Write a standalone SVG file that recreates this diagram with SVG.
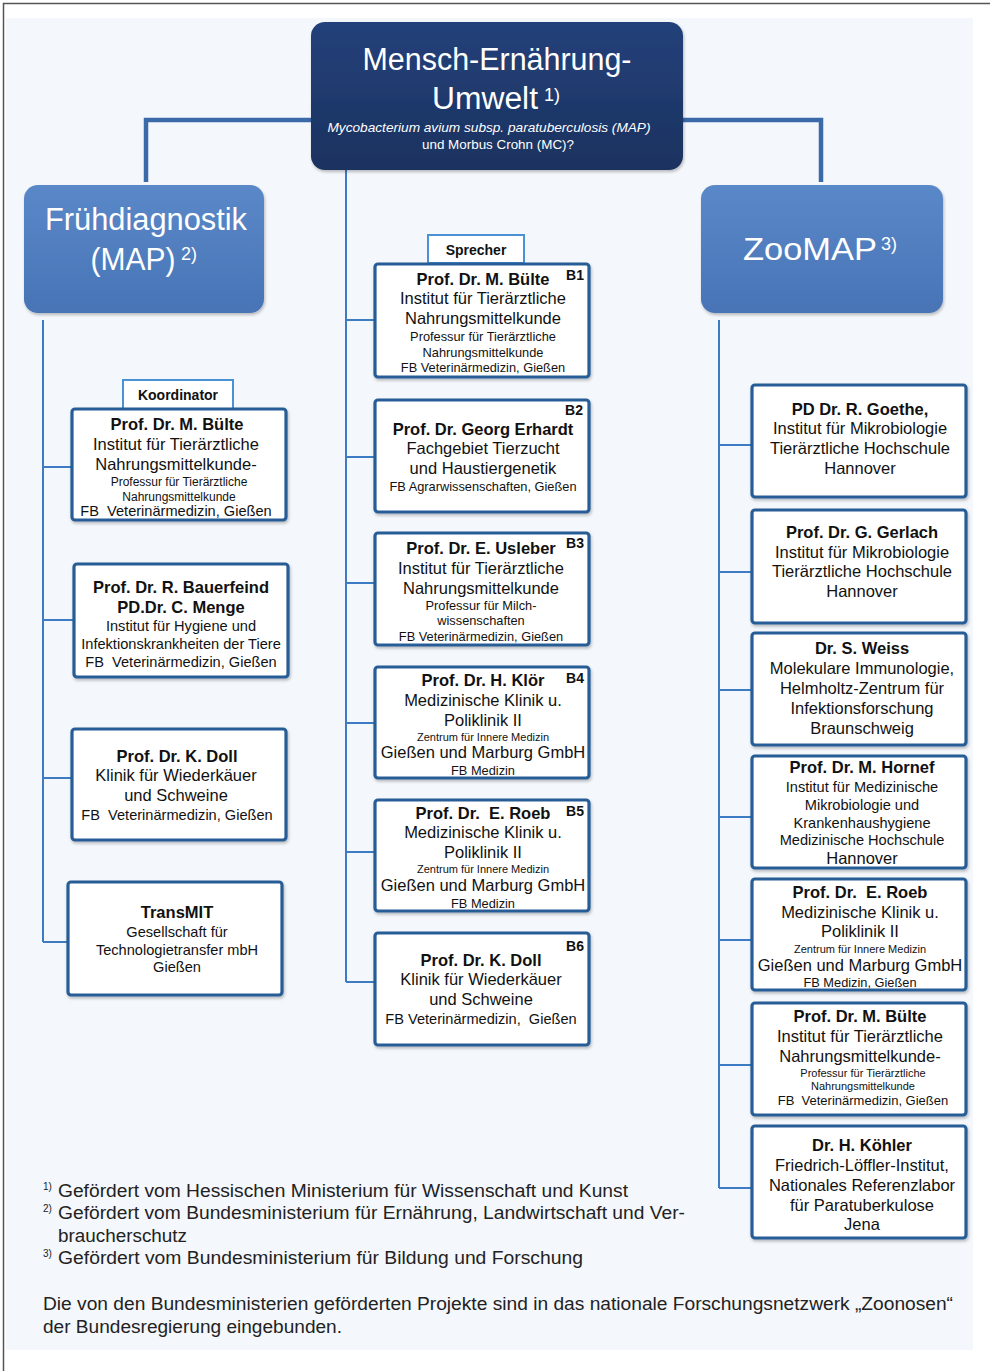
<svg xmlns="http://www.w3.org/2000/svg" width="990" height="1371" viewBox="0 0 990 1371">
<defs>
<linearGradient id="gTop" x1="0" y1="0" x2="0" y2="1"><stop offset="0" stop-color="#24417a"/><stop offset="1" stop-color="#1b325f"/></linearGradient>
<linearGradient id="gMid" x1="0" y1="0" x2="0" y2="1"><stop offset="0" stop-color="#5a88c8"/><stop offset="1" stop-color="#4874b6"/></linearGradient>
<filter id="sh" x="-10%" y="-10%" width="130%" height="130%"><feDropShadow dx="1" dy="2" stdDeviation="1.5" flood-color="#000" flood-opacity="0.25"/></filter>
</defs>
<style>
text{font-family:"Liberation Sans",Arial,sans-serif;fill:#111;text-anchor:middle;white-space:pre}
.b{font-weight:bold;font-size:16.5px}
.n{font-size:16.5px}
.s{font-size:12.8px}
.m{font-size:14.6px}
.t{font-size:11px}
.lbl{font-weight:bold;font-size:14px}
.bx{fill:#fff;stroke:#285d96;stroke-width:3.2}
.lb{fill:#fff;stroke:#4a92d4;stroke-width:2}
.big{fill:#fff;font-size:31px}
.sup{fill:#fff;font-size:18px;text-anchor:start}
.fn{font-size:17.5px;text-anchor:start;fill:#222}
.fs{font-size:10px;text-anchor:start;fill:#222}
.cn{fill:none;stroke:#3d7cc4;stroke-width:2}
.ct{fill:none;stroke:#3a6aa8;stroke-width:4.5}
</style>
<rect x="0" y="0" width="990" height="1371" fill="#fff"/>
<rect x="6" y="18" width="967" height="1332" fill="#f4f7fb"/>
<rect x="3.5" y="3.5" width="1000" height="1400" fill="none" stroke="#555" stroke-width="1.5"/>

<g id="connectors">
<polyline class="ct" points="311,120 146,120 146,182"/>
<polyline class="ct" points="683,120 821,120 821,182"/>
<line class="cn" x1="346" y1="170" x2="346" y2="982"/>
<line class="cn" x1="346" y1="320" x2="375" y2="320"/>
<line class="cn" x1="346" y1="457" x2="375" y2="457"/>
<line class="cn" x1="346" y1="583" x2="375" y2="583"/>
<line class="cn" x1="346" y1="723" x2="375" y2="723"/>
<line class="cn" x1="346" y1="852" x2="375" y2="852"/>
<line class="cn" x1="346" y1="982" x2="375" y2="982"/>
<line class="cn" x1="43" y1="320" x2="43" y2="942"/>
<line class="cn" x1="43" y1="467" x2="72" y2="467"/>
<line class="cn" x1="43" y1="620" x2="73" y2="620"/>
<line class="cn" x1="43" y1="778" x2="72" y2="778"/>
<line class="cn" x1="43" y1="942" x2="68" y2="942"/>
<line class="cn" x1="719" y1="320" x2="719" y2="1188"/>
<line class="cn" x1="719" y1="445" x2="752" y2="445"/>
<line class="cn" x1="719" y1="572" x2="752" y2="572"/>
<line class="cn" x1="719" y1="690" x2="752" y2="690"/>
<line class="cn" x1="719" y1="817" x2="752" y2="817"/>
<line class="cn" x1="719" y1="940" x2="752" y2="940"/>
<line class="cn" x1="719" y1="1065" x2="752" y2="1065"/>
<line class="cn" x1="719" y1="1188" x2="752" y2="1188"/>
</g>

<g id="top">
<rect x="311" y="22" width="372" height="148" rx="14" fill="url(#gTop)" filter="url(#sh)"/>
<text class="big" x="497" y="70" textLength="269" lengthAdjust="spacingAndGlyphs">Mensch-Ernährung-</text>
<text class="big" x="485" y="109" textLength="106" lengthAdjust="spacingAndGlyphs">Umwelt</text>
<text class="sup" x="544" y="101">1)</text>
<text x="489" y="132" style="fill:#fff;font-size:13px;font-style:italic" textLength="323" lengthAdjust="spacingAndGlyphs">Mycobacterium avium subsp. paratuberculosis (MAP)</text>
<text x="498" y="149" style="fill:#fff;font-size:13px" textLength="152" lengthAdjust="spacingAndGlyphs">und Morbus Crohn (MC)?</text>
</g>

<g id="fruehdiagnostik">
<rect x="24" y="185" width="240" height="128" rx="14" fill="url(#gMid)" filter="url(#sh)"/>
<text class="big" x="146" y="230" textLength="202" lengthAdjust="spacingAndGlyphs">Frühdiagnostik</text>
<text class="big" x="133" y="270" textLength="85" lengthAdjust="spacingAndGlyphs">(MAP)</text>
<text class="sup" x="181" y="260">2)</text>
</g>

<g id="zoomap">
<rect x="701" y="185" width="242" height="128" rx="14" fill="url(#gMid)" filter="url(#sh)"/>
<text class="big" x="810" y="260" textLength="134" lengthAdjust="spacingAndGlyphs">ZooMAP</text>
<text class="sup" x="881" y="250">3)</text>
</g>

<g id="koordinator">
<rect class="lb" x="123" y="380" width="110" height="29"/>
<text class="lbl" x="178" y="400">Koordinator</text>
</g>
<g id="l1">
<rect class="bx" x="72" y="409" width="214" height="111" rx="3" filter="url(#sh)"/>
<text class="b" x="177" y="430">Prof. Dr. M. Bülte</text>
<text class="n" x="176" y="450">Institut für Tierärztliche</text>
<text class="n" x="176" y="470">Nahrungsmittelkunde-</text>
<text class="s" x="179" y="486" style="font-size:12px">Professur für Tierärztliche</text>
<text class="s" x="179" y="501" style="font-size:12px">Nahrungsmittelkunde</text>
<text class="m" x="176" y="516">FB  Veterinärmedizin, Gießen</text>
</g>
<g id="l2">
<rect class="bx" x="74" y="564" width="214" height="113" rx="3" filter="url(#sh)"/>
<text class="b" x="181" y="593">Prof. Dr. R. Bauerfeind</text>
<text class="b" x="181" y="613">PD.Dr. C. Menge</text>
<text class="m" x="181" y="631">Institut für Hygiene und</text>
<text class="m" x="181" y="649">Infektionskrankheiten der Tiere</text>
<text class="m" x="181" y="667">FB  Veterinärmedizin, Gießen</text>
</g>
<g id="l3">
<rect class="bx" x="72" y="729" width="214" height="111" rx="3" filter="url(#sh)"/>
<text class="b" x="177" y="762">Prof. Dr. K. Doll</text>
<text class="n" x="176" y="781">Klinik für Wiederkäuer</text>
<text class="n" x="176" y="801">und Schweine</text>
<text class="m" x="177" y="820">FB  Veterinärmedizin, Gießen</text>
</g>
<g id="l4">
<rect class="bx" x="68" y="882" width="214" height="113" rx="3" filter="url(#sh)"/>
<text class="b" x="177" y="918">TransMIT</text>
<text class="m" x="177" y="937">Gesellschaft für</text>
<text class="m" x="177" y="955">Technologietransfer mbH</text>
<text class="m" x="177" y="972">Gießen</text>
</g>

<g id="sprecher">
<rect class="lb" x="428" y="235" width="96" height="28"/>
<text class="lbl" x="476" y="255">Sprecher</text>
</g>
<g id="b1">
<rect class="bx" x="375" y="264" width="214" height="113" rx="3" filter="url(#sh)"/>
<text class="b" x="483" y="285">Prof. Dr. M. Bülte</text>
<text class="lbl" x="575" y="280">B1</text>
<text class="n" x="483" y="304">Institut für Tierärztliche</text>
<text class="n" x="483" y="324">Nahrungsmittelkunde</text>
<text class="s" x="483" y="341">Professur für Tierärztliche</text>
<text class="s" x="483" y="357">Nahrungsmittelkunde</text>
<text class="s" x="483" y="372">FB Veterinärmedizin, Gießen</text>
</g>
<g id="b2">
<rect class="bx" x="375" y="400" width="214" height="112" rx="3" filter="url(#sh)"/>
<text class="lbl" x="574" y="415">B2</text>
<text class="b" x="483" y="435">Prof. Dr. Georg Erhardt</text>
<text class="n" x="483" y="454">Fachgebiet Tierzucht</text>
<text class="n" x="483" y="474">und Haustiergenetik</text>
<text class="s" x="483" y="491">FB Agrarwissenschaften, Gießen</text>
</g>
<g id="b3">
<rect class="bx" x="375" y="533" width="214" height="112" rx="3" filter="url(#sh)"/>
<text class="b" x="481" y="554">Prof. Dr. E. Usleber</text>
<text class="lbl" x="575" y="548">B3</text>
<text class="n" x="481" y="574">Institut für Tierärztliche</text>
<text class="n" x="481" y="594">Nahrungsmittelkunde</text>
<text class="s" x="481" y="610">Professur für Milch-</text>
<text class="s" x="481" y="625">wissenschaften</text>
<text class="s" x="481" y="641">FB Veterinärmedizin, Gießen</text>
</g>
<g id="b4">
<rect class="bx" x="375" y="667" width="214" height="111" rx="3" filter="url(#sh)"/>
<text class="b" x="483" y="686">Prof. Dr. H. Klör</text>
<text class="lbl" x="575" y="683">B4</text>
<text class="n" x="483" y="706">Medizinische Klinik u.</text>
<text class="n" x="483" y="726">Poliklinik II</text>
<text class="t" x="483" y="741">Zentrum für Innere Medizin</text>
<text class="n" x="483" y="758">Gießen und Marburg GmbH</text>
<text class="s" x="483" y="775">FB Medizin</text>
</g>
<g id="b5">
<rect class="bx" x="375" y="800" width="214" height="111" rx="3" filter="url(#sh)"/>
<text class="b" x="483" y="819">Prof. Dr.  E. Roeb</text>
<text class="lbl" x="575" y="816">B5</text>
<text class="n" x="483" y="838">Medizinische Klinik u.</text>
<text class="n" x="483" y="858">Poliklinik II</text>
<text class="t" x="483" y="873">Zentrum für Innere Medizin</text>
<text class="n" x="483" y="891">Gießen und Marburg GmbH</text>
<text class="s" x="483" y="908">FB Medizin</text>
</g>
<g id="b6">
<rect class="bx" x="375" y="933" width="214" height="112" rx="3" filter="url(#sh)"/>
<text class="lbl" x="575" y="951">B6</text>
<text class="b" x="481" y="966">Prof. Dr. K. Doll</text>
<text class="n" x="481" y="985">Klinik für Wiederkäuer</text>
<text class="n" x="481" y="1005">und Schweine</text>
<text class="m" x="481" y="1024">FB Veterinärmedizin,  Gießen</text>
</g>

<g id="r1">
<rect class="bx" x="752" y="385" width="214" height="112" rx="3" filter="url(#sh)"/>
<text class="b" x="860" y="415">PD Dr. R. Goethe,</text>
<text class="n" x="860" y="434">Institut für Mikrobiologie</text>
<text class="n" x="860" y="454">Tierärztliche Hochschule</text>
<text class="n" x="860" y="474">Hannover</text>
</g>
<g id="r2">
<rect class="bx" x="752" y="510" width="214" height="113" rx="3" filter="url(#sh)"/>
<text class="b" x="862" y="538">Prof. Dr. G. Gerlach</text>
<text class="n" x="862" y="558">Institut für Mikrobiologie</text>
<text class="n" x="862" y="577">Tierärztliche Hochschule</text>
<text class="n" x="862" y="597">Hannover</text>
</g>
<g id="r3">
<rect class="bx" x="752" y="633" width="214" height="112" rx="3" filter="url(#sh)"/>
<text class="b" x="862" y="654">Dr. S. Weiss</text>
<text class="n" x="862" y="674">Molekulare Immunologie,</text>
<text class="n" x="862" y="694">Helmholtz-Zentrum für</text>
<text class="n" x="862" y="714">Infektionsforschung</text>
<text class="n" x="862" y="734">Braunschweig</text>
</g>
<g id="r4">
<rect class="bx" x="752" y="756" width="214" height="112" rx="3" filter="url(#sh)"/>
<text class="b" x="862" y="773">Prof. Dr. M. Hornef</text>
<text class="m" x="862" y="792">Institut für Medizinische</text>
<text class="m" x="862" y="810">Mikrobiologie und</text>
<text class="m" x="862" y="828">Krankenhaushygiene</text>
<text class="m" x="862" y="845">Medizinische Hochschule</text>
<text class="n" x="862" y="864">Hannover</text>
</g>
<g id="r5">
<rect class="bx" x="752" y="879" width="214" height="111" rx="3" filter="url(#sh)"/>
<text class="b" x="860" y="898">Prof. Dr.  E. Roeb</text>
<text class="n" x="860" y="918">Medizinische Klinik u.</text>
<text class="n" x="860" y="937">Poliklinik II</text>
<text class="t" x="860" y="953">Zentrum für Innere Medizin</text>
<text class="n" x="860" y="971">Gießen und Marburg GmbH</text>
<text class="s" x="860" y="987">FB Medizin, Gießen</text>
</g>
<g id="r6">
<rect class="bx" x="752" y="1003" width="214" height="112" rx="3" filter="url(#sh)"/>
<text class="b" x="860" y="1022">Prof. Dr. M. Bülte</text>
<text class="n" x="860" y="1042">Institut für Tierärztliche</text>
<text class="n" x="860" y="1062">Nahrungsmittelkunde-</text>
<text class="t" x="863" y="1077">Professur für Tierärztliche</text>
<text class="t" x="863" y="1090">Nahrungsmittelkunde</text>
<text class="s" x="863" y="1105" style="font-size:13px">FB  Veterinärmedizin, Gießen</text>
</g>
<g id="r7">
<rect class="bx" x="752" y="1126" width="214" height="112" rx="3" filter="url(#sh)"/>
<text class="b" x="862" y="1151">Dr. H. Köhler</text>
<text class="n" x="862" y="1171">Friedrich-Löffler-Institut,</text>
<text class="n" x="862" y="1191">Nationales Referenzlabor</text>
<text class="n" x="862" y="1211">für Paratuberkulose</text>
<text class="n" x="862" y="1230">Jena</text>
</g>

<g id="footnotes">
<text class="fs" x="43" y="1190">1)</text>
<text class="fn" x="58" y="1197" textLength="570" lengthAdjust="spacingAndGlyphs">Gefördert vom Hessischen Ministerium für Wissenschaft und Kunst</text>
<text class="fs" x="43" y="1212">2)</text>
<text class="fn" x="58" y="1219" textLength="627" lengthAdjust="spacingAndGlyphs">Gefördert vom Bundesministerium für Ernährung, Landwirtschaft und Ver-</text>
<text class="fn" x="58" y="1242" textLength="129" lengthAdjust="spacingAndGlyphs">braucherschutz</text>
<text class="fs" x="43" y="1257">3)</text>
<text class="fn" x="58" y="1264" textLength="525" lengthAdjust="spacingAndGlyphs">Gefördert vom Bundesministerium für Bildung und Forschung</text>
<text class="fn" x="43" y="1310" textLength="910" lengthAdjust="spacingAndGlyphs">Die von den Bundesministerien geförderten Projekte sind in das nationale Forschungsnetzwerk „Zoonosen“</text>
<text class="fn" x="43" y="1333" textLength="299" lengthAdjust="spacingAndGlyphs">der Bundesregierung eingebunden.</text>
</g>
</svg>
